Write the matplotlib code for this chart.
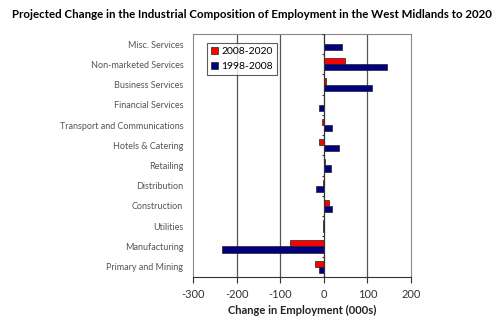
import matplotlib.pyplot as plt
import numpy as np

plt.rcParams['font.family'] = ['Lato', 'DejaVu Sans']

# categories, bottom to top
categories = ['Primary and Mining', 'Manufacturing', 'Utilities', 'Construction',
              'Distribution', 'Retailing', 'Hotels & Catering',
              'Transport and Communications', 'Financial Services',
              'Business Services', 'Non-marketed Services', 'Misc. Services']
change_2008_2020 = [-20, -78, -2, 11, -1, 3, -10, -5, 1, 4, 48, 0]
change_1998_2008 = [-11, -234, -1, 19, -18, 17, 34, 19, -10, 111, 146, 41]
xticks = [-300, -200, -100, 0, 100, 200]

fig = plt.figure(figsize=(5, 3.23), dpi=100)
ax = fig.add_axes([0.386, 0.143, 0.436, 0.752])

y = np.arange(len(categories))
h = 0.3
ax.barh(y + h/2, change_2008_2020, height=h, color='#ff0000', edgecolor='#222222',
        linewidth=0.5, label='2008-2020', zorder=3)
ax.barh(y - h/2, change_1998_2008, height=h, color='#000080', edgecolor='#222222',
        linewidth=0.5, label='1998-2008', zorder=3)

# gridlines and zero axis
for xv in [-200, -100, 100]:
    ax.axvline(xv, color='#555555', lw=0.9, zorder=1)
ax.axvline(0, color='#333333', lw=0.9, zorder=4)
ax.hlines(np.arange(len(categories) + 1) - 0.5, -4, 0, color='#333333', lw=0.8, zorder=4)

ax.set_xlim(-300, 200)
ax.set_ylim(-0.5, len(categories) - 0.5)
ax.set_xticks(xticks)
ax.set_xticklabels([str(v) for v in xticks], fontsize=8, color='#333333')
ax.tick_params(axis='x', length=4, width=0.8, color='#333333', pad=5)
ax.set_yticks(y)
ax.set_yticklabels(categories, fontsize=6.5, color='#555555')
ax.tick_params(axis='y', length=0, pad=7)

for s in ['top', 'right', 'left']:
    ax.spines[s].set_color('#888888')
    ax.spines[s].set_linewidth(0.8)
ax.spines['bottom'].set_color('#333333')

ax.set_xlabel('Change in Employment (000s)', fontsize=8, fontweight='bold',
              color='#222222', labelpad=3)

leg = ax.legend(loc='upper left', bbox_to_anchor=(0.064, 0.963), fontsize=7.5,
                frameon=True, fancybox=False, edgecolor='#333333',
                handlelength=0.7, handleheight=0.7, handletextpad=0.3,
                borderpad=0.4, labelspacing=0.5, borderaxespad=0)
leg.get_frame().set_linewidth(0.8)

fig.text(0.024, 0.955, 'Projected Change in the Industrial Composition of Employment in the West Midlands to 2020',
         fontsize=8.3, fontweight='bold', ha='left', va='center')

plt.savefig('out.png', dpi=100)
